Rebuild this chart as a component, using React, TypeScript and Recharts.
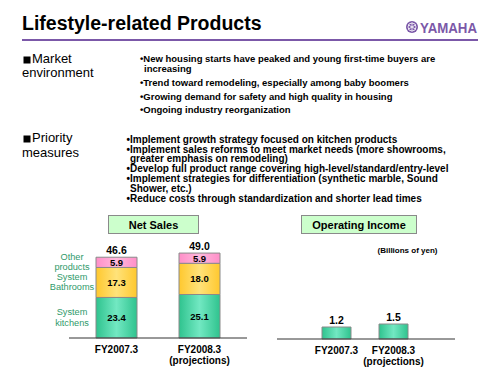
import React from 'react';
import { BarChart, Bar, XAxis, YAxis, LabelList } from 'recharts';

const FONT = '"Liberation Sans", Arial, Helvetica, sans-serif';
const PURPLE = '#7B58A8';
const GREEN_TEXT = '#2F9A6A';

// ---- data ----
const categories = ['FY2007.3', 'FY2008.3'];
const categorySubs = ['', '(projections)'];
const kitchens = [23.4, 25.1];
const bathrooms = [17.3, 18.0];
const others = [5.9, 5.9];
const totals = [46.6, 49.0];
const opIncome = [1.2, 1.5];
const seriesNames = {
  kitchens: ['System', 'kitchens'],
  bathrooms: ['System', 'Bathrooms'],
  others: ['Other', 'products'],
};

const marketLines = [
  { t: '•New housing starts have peaked and young first-time buyers are', y: 62, x: 140 },
  { t: 'increasing', y: 72, x: 144 },
  { t: '•Trend toward remodeling, especially among baby boomers', y: 86, x: 140 },
  { t: '•Growing demand for safety and high quality in housing', y: 99.5, x: 140 },
  { t: '•Ongoing industry reorganization', y: 113, x: 140 },
];
const priorityLines = [
  { t: '•Implement growth strategy focused on kitchen products', y: 143, x: 126.5 },
  { t: '•Implement sales reforms to meet market needs (more showrooms,', y: 152.5, x: 126.5 },
  { t: 'greater emphasis on remodeling)', y: 162, x: 130 },
  { t: '•Develop full product range covering high-level/standard/entry-level', y: 172, x: 126.5 },
  { t: '•Implement strategies for differentiation (synthetic marble, Sound', y: 182, x: 126.5 },
  { t: 'Shower, etc.)', y: 191.5, x: 130 },
  { t: '•Reduce costs through standardization and shorter lead times', y: 201.5, x: 126.5 },
];

const salesData = categories.map((name, i) => ({
  name,
  kitchens: kitchens[i],
  bathrooms: bathrooms[i],
  others: others[i],
  total: totals[i],
}));
const opData = categories.map((name, i) => ({ name, op: opIncome[i] }));

const CatTick = (props: any) => {
  const { x, y, payload } = props;
  const idx = categories.indexOf(payload.value);
  const sub = categorySubs[idx];
  return (
    <text x={x} y={y} textAnchor="middle" fontFamily={FONT} fontWeight="bold" fontSize={10} fill="#000">
      <tspan x={x} dy={7}>{payload.value}</tspan>
      {sub ? <tspan x={x} dy={10.5}>{sub}</tspan> : null}
    </text>
  );
};

const nameLabel = (lines: string[]) => (props: any) => {
  const { x, y, height, index } = props;
  if (index !== 0) return null;
  const cx = Number(x) - 24;
  const cy = Number(y) + Number(height) / 2;
  return (
    <text x={cx} y={cy} textAnchor="middle" fontFamily={FONT} fontSize={9.2} fill={GREEN_TEXT}>
      <tspan x={cx} dy={-2.5}>{lines[0]}</tspan>
      <tspan x={cx} dy={10.5}>{lines[1]}</tspan>
    </text>
  );
};

const innerLabel = (props: any) => {
  const { x, y, width, height, value } = props;
  const cx = Number(x) + Number(width) / 2;
  const cy = Number(y) + Number(height) / 2;
  return (
    <text x={cx} y={cy + 3.5} textAnchor="middle" fontFamily={FONT} fontWeight="bold" fontSize={9.5} fill="#000">
      {Number(value).toFixed(1)}
    </text>
  );
};

const topLabel = (props: any) => {
  const { x, y, width, value } = props;
  const cx = Number(x) + Number(width) / 2;
  return (
    <text x={cx} y={Number(y) - 3} textAnchor="middle" fontFamily={FONT} fontWeight="bold" fontSize={10.5} fill="#000">
      {Number(value).toFixed(1)}
    </text>
  );
};

const Grad = ({ id, edge, mid }: { id: string; edge: string; mid: string }) => (
  <linearGradient id={id} x1="0" y1="0" x2="1" y2="0">
    <stop offset="0%" stopColor={edge} />
    <stop offset="50%" stopColor={mid} />
    <stop offset="100%" stopColor={edge} />
  </linearGradient>
);

export default function App() {
  return (
    <div style={{ position: 'absolute', left: 0, top: 0, width: 500, height: 375, background: '#fff', overflow: 'hidden', fontFamily: FONT }}>
      <svg width={500} height={375} style={{ position: 'absolute', left: 0, top: 0 }}>
        {/* title */}
        <text x={22} y={30} fontFamily={FONT} fontWeight="bold" fontSize={19.5} fill="#000">Lifestyle-related Products</text>
        <rect x={22} y={39} width={456} height={2} fill={PURPLE} />
        {/* logo */}
        <circle cx={412} cy={27} r={6} fill={PURPLE} />
        <circle cx={412} cy={27} r={4} fill="none" stroke="#fff" strokeWidth={0.8} />
        <line x1={412} y1={22.5} x2={412} y2={31.5} stroke="#fff" strokeWidth={0.8} />
        <line x1={408.1} y1={24.75} x2={415.9} y2={29.25} stroke="#fff" strokeWidth={0.8} />
        <line x1={408.1} y1={29.25} x2={415.9} y2={24.75} stroke="#fff" strokeWidth={0.8} />
        <text x={420} y={33} fontFamily={FONT} fontWeight="bold" fontSize={14.5} fill={PURPLE} textLength={57} lengthAdjust="spacingAndGlyphs">YAMAHA</text>

        {/* market environment */}
        <rect x={23.5} y={56.5} width={7} height={7} fill="#000" />
        <text x={32} y={63.3} fontFamily={FONT} fontSize={13} fill="#000">Market</text>
        <text x={22} y={77.3} fontFamily={FONT} fontSize={13} fill="#000">environment</text>
        {marketLines.map((l, i) => (
          <text key={'m' + i} x={l.x} y={l.y} fontFamily={FONT} fontWeight="bold" fontSize={9.5} fill="#000">{l.t}</text>
        ))}

        {/* priority measures */}
        <rect x={23.5} y={135.5} width={7} height={7} fill="#000" />
        <text x={32} y={142.3} fontFamily={FONT} fontSize={13} fill="#000">Priority</text>
        <text x={22} y={157.3} fontFamily={FONT} fontSize={13} fill="#000">measures</text>
        {priorityLines.map((l, i) => (
          <text key={'p' + i} x={l.x} y={l.y} fontFamily={FONT} fontWeight="bold" fontSize={10} fill="#000">{l.t}</text>
        ))}

        {/* boxes */}
        <rect x={108.5} y={215.5} width={90} height={18} fill="#CCFFCC" stroke="#8A8A8A" strokeWidth={1} />
        <text x={153.5} y={228.5} textAnchor="middle" fontFamily={FONT} fontWeight="bold" fontSize={11} fill="#000">Net Sales</text>
        <rect x={301.5} y={215.5} width={115} height={18} fill="#CCFFCC" stroke="#8A8A8A" strokeWidth={1} />
        <text x={359} y={228.5} textAnchor="middle" fontFamily={FONT} fontWeight="bold" fontSize={11} fill="#000">Operating Income</text>
        <text x={407.5} y={252.5} textAnchor="middle" fontFamily={FONT} fontWeight="bold" fontSize={8} fill="#000">(Billions of yen)</text>
      </svg>

      <div style={{ position: 'absolute', left: 40, top: 220 }}>
        <BarChart width={220} height={155} data={salesData} margin={{ top: 14, right: 13, bottom: 7, left: 29 }}>
          <defs>
            <Grad id="gGreen" edge="#2FC38E" mid="#72E8C2" />
            <Grad id="gYellow" edge="#FFC82E" mid="#FFE27A" />
            <Grad id="gPink" edge="#FF8FC8" mid="#FFB8DD" />
          </defs>
          <XAxis dataKey="name" axisLine={{ stroke: '#333', strokeWidth: 1 }} tickLine={false} tick={<CatTick />} interval={0} height={30} padding={{ left: 6, right: 6 }} />
          <YAxis type="number" domain={[0, 60]} hide />
          <Bar dataKey="kitchens" stackId="s" fill="url(#gGreen)" stroke="#8A8A8A" strokeWidth={1} barSize={41} isAnimationActive={false}>
            <LabelList dataKey="kitchens" content={innerLabel} />
            <LabelList dataKey="kitchens" content={nameLabel(seriesNames.kitchens)} />
          </Bar>
          <Bar dataKey="bathrooms" stackId="s" fill="url(#gYellow)" stroke="#8A8A8A" strokeWidth={1} barSize={41} isAnimationActive={false}>
            <LabelList dataKey="bathrooms" content={innerLabel} />
            <LabelList dataKey="bathrooms" content={nameLabel(seriesNames.bathrooms)} />
          </Bar>
          <Bar dataKey="others" stackId="s" fill="url(#gPink)" stroke="#8A8A8A" strokeWidth={1} barSize={41} isAnimationActive={false}>
            <LabelList dataKey="others" content={innerLabel} />
            <LabelList dataKey="others" content={nameLabel(seriesNames.others)} />
            <LabelList dataKey="total" content={topLabel} />
          </Bar>
        </BarChart>
      </div>

      <div style={{ position: 'absolute', left: 260, top: 220 }}>
        <BarChart width={240} height={155} data={opData} margin={{ top: 19, right: 45, bottom: 6, left: 17 }}>
          <defs>
            <Grad id="gGreen2" edge="#2FC38E" mid="#72E8C2" />
          </defs>
          <XAxis dataKey="name" axisLine={{ stroke: '#333', strokeWidth: 1 }} tickLine={false} tick={<CatTick />} interval={0} height={30} padding={{ left: 31, right: 33 }} />
          <YAxis type="number" domain={[0, 10]} hide />
          <Bar dataKey="op" fill="url(#gGreen2)" stroke="#8A8A8A" strokeWidth={1} barSize={29} isAnimationActive={false}>
            <LabelList dataKey="op" content={topLabel} />
          </Bar>
        </BarChart>
      </div>
    </div>
  );
}
